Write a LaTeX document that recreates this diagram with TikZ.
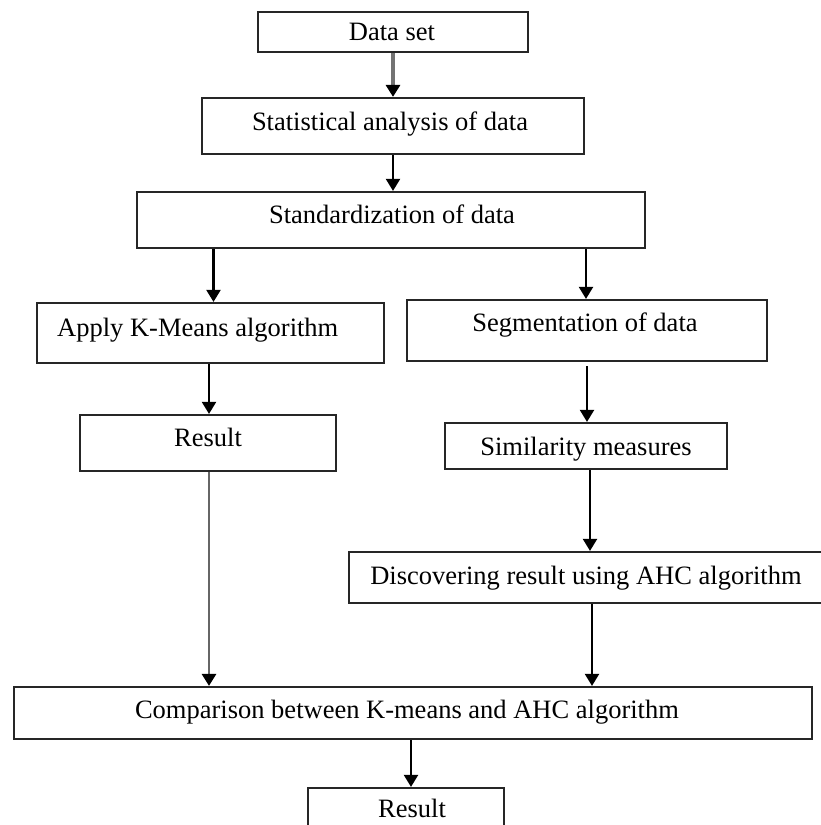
\documentclass[tikz,border=0pt]{standalone}
\usepackage{fontspec}
\setmainfont{Liberation Serif}
\usetikzlibrary{arrows.meta}
\begin{document}
\begin{tikzpicture}[x=1pt,y=-1pt,
  box/.style={draw=black!85, line width=2.2pt, inner sep=0pt},
  lbl/.style={inner sep=0pt, anchor=base, font=\fontsize{26.5}{30}\selectfont},
  arr/.style={line width=2.2pt, draw=black, -{Triangle[width=14pt,length=12pt,color=black]}},
]
\useasboundingbox (0,0) rectangle (821,825);
\clip (0,0) rectangle (821,825);
% boxes
\node[box, minimum width=270pt, minimum height=40pt] (ds) at (393,32) {};
\node[box, minimum width=382pt, minimum height=56pt] (st) at (393,126) {};
\node[box, minimum width=508pt, minimum height=56pt] (sd) at (391,220) {};
\node[box, minimum width=347pt, minimum height=60pt] (ap) at (210.5,333) {};
\node[box, minimum width=360pt, minimum height=61pt] (sg) at (587,330.5) {};
\node[box, minimum width=256pt, minimum height=56pt] (rl) at (208,443) {};
\node[box, minimum width=282pt, minimum height=46pt] (sm) at (586,446) {};
\node[box, minimum width=491pt, minimum height=51pt] (dc) at (594.5,577.5) {};
\node[box, minimum width=798pt, minimum height=52pt] (cp) at (413,713) {};
\node[box, minimum width=196pt, minimum height=72pt] (rb) at (406,824) {};
% labels
\node[lbl] (tds) at (392,40) {Data set};
\node[lbl] (tst) at (390,130) {Statistical analysis of data};
\node[lbl] (tsd) at (392,223) {Standardization of data};
\node[lbl, anchor=base west] (tap) at (57,336) {Apply K-Means algorithm};
\node[lbl] (tsg) at (585,331) {Segmentation of data};
\node[lbl] (trl) at (208,446) {Result};
\node[lbl] (tsm) at (586,455) {Similarity measures};
\node[lbl] (tdc) at (586,584) {Discovering result using AHC algorithm};
\node[lbl] (tcp) at (407,718) {Comparison between K-means and AHC algorithm};
\node[lbl] (trb) at (412,817) {Result};
% connectors
\draw[arr, draw=black!55, line width=4.5pt] (ds.south) -- (st.north);
\draw[arr] (st.south) -- ([xshift=2pt]sd.north);
\draw[arr] ([xshift=-177.5pt]sd.south) -- ([xshift=3pt]ap.north);
\draw[arr] ([xshift=195pt]sd.south) -- ([xshift=-1pt]sg.north);
\draw[arr] ([xshift=-1.5pt]ap.south) -- ([xshift=1pt]rl.north);
\draw[arr] ([yshift=-4pt]sg.south) -- ([xshift=1pt]sm.north);
\draw[arr] ([xshift=4pt]sm.south) -- ([xshift=-4.5pt]dc.north);
\draw[arr, draw=black!60, line width=2.8pt] ([xshift=1pt]rl.south) -- ([xshift=-204pt]cp.north);
\draw[arr] ([xshift=-2.5pt]dc.south) -- ([xshift=179pt]cp.north);
\draw[arr] ([xshift=-2pt]cp.south) -- ([xshift=5pt]rb.north);
\end{tikzpicture}
\end{document}
